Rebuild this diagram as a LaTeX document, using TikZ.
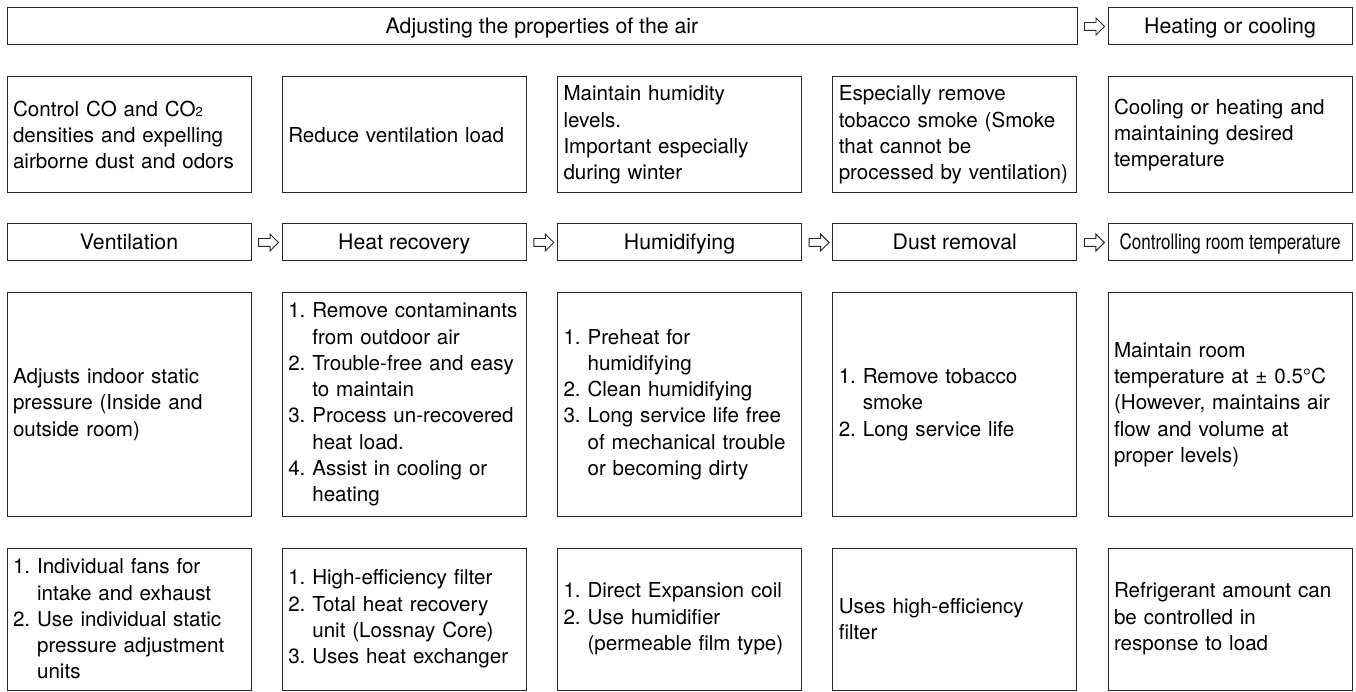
\documentclass[tikz,border=0pt]{standalone}
\usepackage{fontspec}
\setmainfont{TeX Gyre Heros}
\newfontfamily\narrowfont[FakeStretch=0.8]{TeX Gyre Heros}
\usepackage{tikz}
\usetikzlibrary{shapes,arrows.meta,positioning,calc}
\definecolor{boxline}{RGB}{40,40,40}
\newcommand{\numgap}{\phantom{0.\ }}
\newcommand{\smallsub}[1]{{\fontsize{13}{13}\selectfont #1}}
\frenchspacing
\hyphenpenalty=10000

\begin{document}
\begin{tikzpicture}[
    x=1pt, y=-1pt,
    box/.style={draw=boxline, line width=1pt, minimum width=244pt, inner sep=0pt},
    head/.style={box, minimum height=37pt, align=center, text height=15pt, text depth=0pt,
                 font=\fontsize{21.3}{26}\selectfont},
    note/.style={box, text width=232pt, align=left, inner xsep=6pt,
                 font=\fontsize{20.6}{26.3}\selectfont},
    hollow/.style={single arrow, draw=boxline, line width=0.9pt, inner sep=3.5pt,
                   minimum height=20pt, single arrow head extend=4.5pt}
]
    \useasboundingbox (0,0) rectangle (1356,692);

    % top line
    \node[head, minimum width=1070pt] (adjust)   at (542,26.5)  {Adjusting the properties of the air};
    \node[head]                       (heatcool) at (1230,26.5) {Heating or cooling};
    \node[hollow] (adjarr) at ($(adjust.east)!0.5!(heatcool.west)$) {};

    % aims
    \node[note, minimum height=116pt] (ventaim) at (129,135)
        {Control CO and CO\smallsub{2}\\densities and expelling\\airborne dust and odors};
    \node[note, minimum height=116pt] (recaim)  at (404.25,135) {Reduce ventilation load};
    \node[note, minimum height=116pt] (humaim)  at (679.5,135)
        {Maintain humidity\\levels.\\Important especially\\during winter};
    \node[note, minimum height=116pt] (dustaim) at (954.75,135)
        {Especially remove\\tobacco smoke (Smoke\\that cannot be\\processed by ventilation)};
    \node[note, minimum height=116pt] (tempaim) at (1230,135)
        {Cooling or heating and\\maintaining desired\\temperature};

    % process steps
    \node[head] (vent)  at (129,242.5)    {Ventilation};
    \node[head] (heat)  at (404.25,242.5) {Heat recovery};
    \node[head] (humid) at (679.5,242.5)  {Humidifying};
    \node[head] (dust)  at (954.75,242.5) {Dust removal};
    \node[head] (temp)  at (1230,242.5)   {\narrowfont Controlling room temperature};

    \node[hollow] (ventarr)  at ($(vent.east)!0.5!(heat.west)$)  {};
    \node[hollow] (heatarr)  at ($(heat.east)!0.5!(humid.west)$) {};
    \node[hollow] (humidarr) at ($(humid.east)!0.5!(dust.west)$) {};
    \node[hollow] (dustarr)  at ($(dust.east)!0.5!(temp.west)$)  {};

    % features
    \node[note, minimum height=223pt] (ventfeat) at (129,404.5)
        {Adjusts indoor static\\pressure (Inside and\\outside room)};
    \node[note, minimum height=223pt] (recfeat)  at (404.25,404.5)
        {1. Remove contaminants\\\numgap from outdoor air\\2. Trouble-free and easy\\\numgap to maintain\\%
         3. Process un-recovered\\\numgap heat load.\\4. Assist in cooling or\\\numgap heating};
    \node[note, minimum height=223pt] (humfeat)  at (679.5,404.5)
        {1. Preheat for\\\numgap humidifying\\2. Clean humidifying\\3. Long service life free\\%
         \numgap of mechanical trouble\\\numgap or becoming dirty};
    \node[note, minimum height=223pt] (dustfeat) at (954.75,404.5)
        {1. Remove tobacco\\\numgap smoke\\2. Long service life};
    \node[note, minimum height=223pt] (tempfeat) at (1230,404.5)
        {Maintain room\\temperature at ± 0.5°C\\(However, maintains air\\flow and volume at\\proper levels)};

    % means
    \node[note, minimum height=142pt] (ventmean) at (129,619)
        {1. Individual fans for\\\numgap intake and exhaust\\2. Use individual static\\%
         \numgap pressure adjustment\\\numgap units};
    \node[note, minimum height=142pt] (recmean)  at (404.25,619)
        {1. High-efficiency filter\\2. Total heat recovery\\\numgap unit (Lossnay Core)\\3. Uses heat exchanger};
    \node[note, minimum height=142pt] (hummean)  at (679.5,619)
        {1. Direct Expansion coil\\2. Use humidifier\\\numgap (permeable film type)};
    \node[note, minimum height=142pt] (dustmean) at (954.75,619)
        {Uses high-efficiency\\filter};
    \node[note, minimum height=142pt] (tempmean) at (1230,619)
        {Refrigerant amount can\\be controlled in\\response to load};
\end{tikzpicture}
\end{document}
